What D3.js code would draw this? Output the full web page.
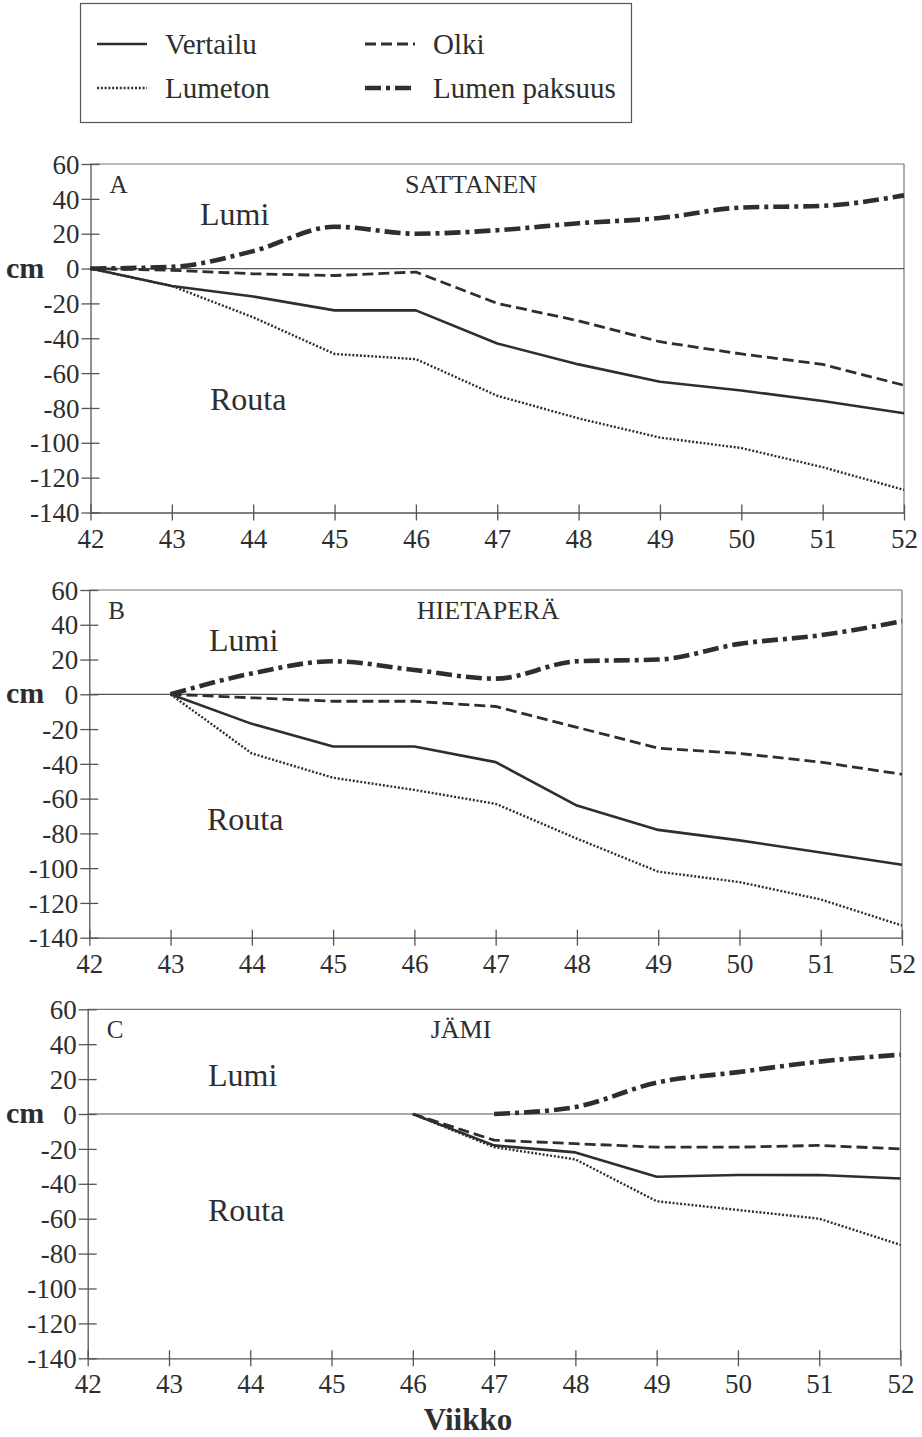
<!DOCTYPE html>
<html>
<head>
<meta charset="utf-8">
<script src="https://cdn.jsdelivr.net/npm/d3@7"></script>
<style>
  html, body { margin: 0; padding: 0; background: #fff; }
  svg { display: block; }
  text { font-family: "Liberation Serif", "Times New Roman", serif; fill: #2e2e2e; }
</style>
</head>
<body>
<svg id="chart" width="922" height="1437"></svg>
<script>
// ---------- DATA ----------
const weeks = [42, 43, 44, 45, 46, 47, 48, 49, 50, 51, 52];
const yTicks = [60, 40, 20, 0, -20, -40, -60, -80, -100, -120, -140];
const xTicks = [42, 43, 44, 45, 46, 47, 48, 49, 50, 51, 52];

const seriesNames = ["Vertailu", "Olki", "Lumeton", "Lumen paksuus"];
const panelLetters = ["A", "B", "C"];
const panelTitles = ["SATTANEN", "HIETAPERÄ", "JÄMI"];

// A – SATTANEN
const aVertailu = [0, -10, -16, -24, -24, -43, -55, -65, -70, -76, -83];
const aOlki     = [0, -1, -3, -4, -2, -20, -30, -42, -49, -55, -67];
const aLumeton  = [0, -10, -28, -49, -52, -73, -86, -97, -103, -114, -127];
const aLumen    = [0, 1, 10, 24, 20, 22, 26, 29, 35, 36, 42];
// B – HIETAPERÄ
const bVertailu = [null, 0, -17, -30, -30, -39, -64, -78, -84, -91, -98];
const bOlki     = [null, 0, -2, -4, -4, -7, -19, -31, -34, -39, -46];
const bLumeton  = [null, 0, -34, -48, -55, -63, -83, -102, -108, -118, -133];
const bLumen    = [null, 0, 12, 19, 14, 9, 19, 20, 29, 34, 42];
// C – JÄMI
const cVertailu = [null, null, null, null, 0, -18, -22, -36, -35, -35, -37];
const cOlki     = [null, null, null, null, 0, -15, -17, -19, -19, -18, -20];
const cLumeton  = [null, null, null, null, 0, -19, -26, -50, -55, -60, -75];
const cLumen    = [null, null, null, null, null, 0, 4, 18, 24, 30, 34];

const panelData = [
  [aVertailu, aOlki, aLumeton, aLumen],
  [bVertailu, bOlki, bLumeton, bLumen],
  [cVertailu, cOlki, cLumeton, cLumen]
];

// ---------- STYLES / LAYOUT ----------
const ink = "#2e2e2e";
const serif = '"Liberation Serif", "Times New Roman", serif';
const seriesStyle = [
  { w: 2.6, dash: null, curve: d3.curveLinear },
  { w: 2.8, dash: "11,5", curve: d3.curveLinear },
  { w: 2.4, dash: "2,1.8", curve: d3.curveLinear },
  { w: 4.6, dash: "16,5,4,5", curve: d3.curveMonotoneX }
];
const panels = [
  { x0: 90.5, x1: 904, yTop: 164, yBot: 512.5, lumi: [200, 225], routa: [210, 410], titleX: 471 },
  { x0: 89.3, x1: 902, yTop: 590, yBot: 937.7, lumi: [209, 651], routa: [207, 830], titleX: 488 },
  { x0: 87.7, x1: 900.5, yTop: 1009.3, yBot: 1358.3, lumi: [208, 1086], routa: [208, 1221], titleX: 461 }
];

const svg = d3.select("#chart");

// ---------- LEGEND ----------
const leg = svg.append("g");
leg.append("rect").attr("x", 80.5).attr("y", 3.5).attr("width", 551).attr("height", 119)
  .attr("fill", "none").attr("stroke", "#555").attr("stroke-width", 1.2);
const legPos = [[97, 44], [365, 44], [97, 88], [365, 88]];
[0, 1, 2, 3].forEach((si, k) => {
  const [lx, ly] = legPos[k];
  const st = seriesStyle[si];
  leg.append("line").attr("x1", lx).attr("x2", lx + 50).attr("y1", ly).attr("y2", ly)
    .attr("stroke", ink).attr("stroke-width", st.w)
    .attr("stroke-dasharray", st.dash);
  leg.append("text").attr("x", lx + 68).attr("y", ly + 10)
    .style("font-family", serif).attr("font-size", 29).text(seriesNames[si]);
});

// ---------- PANELS ----------
panels.forEach((p, pi) => {
  const g = svg.append("g");
  const x = d3.scaleLinear().domain([42, 52]).range([p.x0, p.x1]);
  const y = d3.scaleLinear().domain([-140, 60]).range([p.yBot, p.yTop]);

  // frame top/right
  g.append("line").attr("x1", x(42)).attr("x2", x(52)).attr("y1", y(60)).attr("y2", y(60))
    .attr("stroke", "#777").attr("stroke-width", 1.2);
  g.append("line").attr("x1", x(52)).attr("x2", x(52)).attr("y1", y(60)).attr("y2", y(-140))
    .attr("stroke", "#777").attr("stroke-width", 1.2);
  // zero line
  g.append("line").attr("x1", x(42)).attr("x2", x(52)).attr("y1", y(0)).attr("y2", y(0))
    .attr("stroke", "#555").attr("stroke-width", 1.2);

  // y axis
  const ya = g.append("g").attr("transform", `translate(${x(42)},0)`)
    .call(d3.axisLeft(y).tickValues(yTicks).tickSize(9).tickSizeOuter(0).tickFormat(d => String(d)));
  ya.attr("font-family", null);
  ya.select(".domain").attr("stroke", "#555").attr("stroke-width", 1.3);
  ya.selectAll(".tick line").attr("stroke", "#555").attr("stroke-width", 1.3).attr("x2", 9).attr("x1", -9);
  ya.selectAll(".tick text").attr("x", -11).attr("dy", "0.34em")
    .style("font-family", serif).attr("font-size", 27).attr("fill", ink);

  // x axis
  const xa = g.append("g").attr("transform", `translate(0,${y(-140)})`)
    .call(d3.axisBottom(x).tickValues(xTicks).tickSize(8).tickSizeOuter(0).tickFormat(d => String(d)));
  xa.attr("font-family", null);
  xa.select(".domain").attr("stroke", "#555").attr("stroke-width", 1.3);
  xa.selectAll(".tick line").attr("stroke", "#555").attr("stroke-width", 1.3).attr("y1", -8).attr("y2", 8);
  xa.selectAll(".tick text").attr("y", 35).attr("dy", 0)
    .style("font-family", serif).attr("font-size", 27).attr("fill", ink);

  // cm label
  g.append("text").attr("x", 6).attr("y", y(0) + 9).attr("font-size", 30)
    .attr("font-weight", "bold").style("font-family", serif).text("cm");

  // letter + title
  g.append("text").attr("x", p.x0 + 19).attr("y", p.yTop + 29).attr("font-size", 25)
    .style("font-family", serif).text(panelLetters[pi]);
  g.append("text").attr("x", p.titleX).attr("y", p.yTop + 29).attr("font-size", 26)
    .style("font-family", serif).attr("text-anchor", "middle").text(panelTitles[pi]);
  g.append("text").attr("x", p.lumi[0]).attr("y", p.lumi[1]).attr("font-size", 32)
    .style("font-family", serif).text("Lumi");
  g.append("text").attr("x", p.routa[0]).attr("y", p.routa[1]).attr("font-size", 32)
    .style("font-family", serif).text("Routa");

  // series
  panelData[pi].forEach((vals, si) => {
    const pts = weeks.map((w, i) => ({ w, v: vals[i] })).filter(d => d.v !== null);
    const st = seriesStyle[si];
    const line = d3.line().x(d => x(d.w)).y(d => y(d.v)).curve(st.curve);
    g.append("path").attr("d", line(pts)).attr("fill", "none")
      .attr("stroke", ink).attr("stroke-width", st.w)
      .attr("stroke-dasharray", st.dash).attr("stroke-linejoin", "round");
  });
});

// x axis title
svg.append("text").attr("x", 468).attr("y", 1430).attr("font-size", 31)
  .attr("font-weight", "bold").style("font-family", serif).attr("text-anchor", "middle").text("Viikko");
</script>
</body>
</html>
